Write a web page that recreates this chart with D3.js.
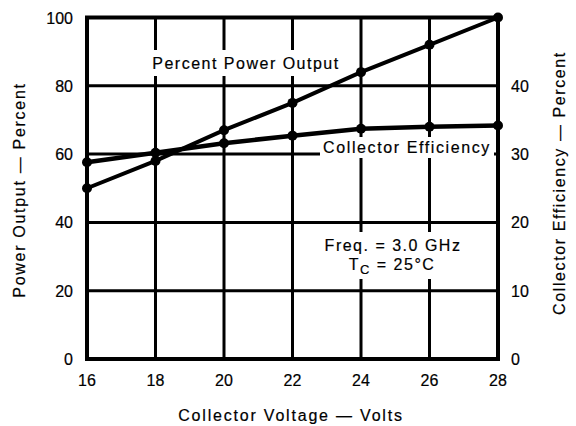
<!DOCTYPE html>
<html>
<head>
<meta charset="utf-8">
<script src="https://cdn.jsdelivr.net/npm/d3@7"></script>
<style>
  body { margin: 0; background: #fff; }
  text { font-family: "Liberation Sans", Arial, sans-serif; fill: #000; stroke: #000; stroke-width: 0.2px; }
</style>
</head>
<body>
<div id="chart"></div>
<script>
// values
let voltage = [16, 18, 20, 22, 24, 26, 28];
let powerOutput = [50, 58, 67, 75, 84, 92, 100];         // percent, left axis
let efficiency = [28.8, 30.2, 31.6, 32.7, 33.7, 34.0, 34.2]; // percent, right axis
let leftTicks = [0, 20, 40, 60, 80, 100];
let rightTicks = [0, 10, 20, 30, 40];

let width = 576, height = 426;
let margin = { top: 17.5, right: 78, bottom: 67, left: 87 };

let svg = d3.select("#chart")
    .append("svg")
    .attr("width", width)
    .attr("height", height);

let x = d3.scaleLinear().domain([16, 28]).range([margin.left, width - margin.right]);
let yL = d3.scaleLinear().domain([0, 100]).range([height - margin.bottom, margin.top]);
let yR = d3.scaleLinear().domain([0, 50]).range([height - margin.bottom, margin.top]);

// grid
let grid = svg.append("g").attr("stroke", "#000").attr("stroke-width", 3);
grid.selectAll(".h")
    .data(leftTicks)
    .enter()
    .append("line")
    .attr("x1", x(16)).attr("x2", x(28))
    .attr("y1", d => yL(d)).attr("y2", d => yL(d));
grid.selectAll(".v")
    .data(voltage)
    .enter()
    .append("line")
    .attr("x1", d => x(d)).attr("x2", d => x(d))
    .attr("y1", yL(0)).attr("y2", yL(100));

// white boxes behind the labels that sit on the grid
let boxes = [
    [148, 50, 196, 26],
    [320, 137, 174, 21],
    [322, 232, 144, 47]
];
svg.append("g").selectAll("rect")
    .data(boxes)
    .enter()
    .append("rect")
    .attr("x", d => d[0]).attr("y", d => d[1])
    .attr("width", d => d[2]).attr("height", d => d[3])
    .attr("fill", "#fff");

// curves
let powerLine = d3.line().x((d, i) => x(voltage[i])).y(d => yL(d));
let effLine = d3.line().x((d, i) => x(voltage[i])).y(d => yR(d));

svg.append("path")
    .attr("d", powerLine(powerOutput))
    .attr("fill", "none").attr("stroke", "#000").attr("stroke-width", 4);
svg.append("path")
    .attr("d", effLine(efficiency))
    .attr("fill", "none").attr("stroke", "#000").attr("stroke-width", 4.5);

svg.append("g").selectAll("circle")
    .data(powerOutput)
    .enter()
    .append("circle")
    .attr("cx", (d, i) => x(voltage[i])).attr("cy", d => yL(d))
    .attr("r", 5);
svg.append("g").selectAll("circle")
    .data(efficiency)
    .enter()
    .append("circle")
    .attr("cx", (d, i) => x(voltage[i])).attr("cy", d => yR(d))
    .attr("r", 5);

// frame
svg.append("rect")
    .attr("x", x(16)).attr("y", yL(100))
    .attr("width", x(28) - x(16)).attr("height", yL(0) - yL(100))
    .attr("fill", "none").attr("stroke", "#000").attr("stroke-width", 4);

// tick labels
svg.append("g").selectAll("text")
    .data(leftTicks)
    .enter()
    .append("text")
    .attr("x", 73).attr("y", d => yL(d) + 6)
    .attr("text-anchor", "end")
    .attr("font-size", 16)
    .text(d => d);
svg.append("g").selectAll("text")
    .data(rightTicks)
    .enter()
    .append("text")
    .attr("x", 511).attr("y", d => yR(d) + 6)
    .attr("font-size", 16)
    .text(d => d);
svg.append("g").selectAll("text")
    .data(voltage)
    .enter()
    .append("text")
    .attr("x", d => x(d)).attr("y", 386)
    .attr("text-anchor", "middle")
    .attr("font-size", 16)
    .text(d => d);

// axis titles
svg.append("text")
    .attr("x", 291).attr("y", 421)
    .attr("text-anchor", "middle")
    .attr("font-size", 16).attr("letter-spacing", 1.8)
    .text("Collector Voltage — Volts");
svg.append("text")
    .attr("transform", "translate(25,190) rotate(-90)")
    .attr("text-anchor", "middle")
    .attr("font-size", 16).attr("letter-spacing", 1.7)
    .text("Power Output — Percent");
svg.append("text")
    .attr("transform", "translate(565,183) rotate(-90)")
    .attr("text-anchor", "middle")
    .attr("font-size", 16).attr("letter-spacing", 1.6)
    .text("Collector Efficiency — Percent");

// curve labels and conditions
svg.append("text")
    .attr("x", 246).attr("y", 69)
    .attr("text-anchor", "middle")
    .attr("font-size", 16).attr("letter-spacing", 1.5)
    .text("Percent Power Output");
svg.append("text")
    .attr("x", 407).attr("y", 153)
    .attr("text-anchor", "middle")
    .attr("font-size", 16).attr("letter-spacing", 1.6)
    .text("Collector Efficiency");
svg.append("text")
    .attr("x", 393).attr("y", 251)
    .attr("text-anchor", "middle")
    .attr("font-size", 16).attr("letter-spacing", 1.5)
    .text("Freq. = 3.0 GHz");
let tc = svg.append("text")
    .attr("x", 392).attr("y", 270)
    .attr("text-anchor", "middle")
    .attr("font-size", 16).attr("letter-spacing", 1.5);
tc.append("tspan").text("T");
tc.append("tspan").attr("font-size", 13).attr("dy", 4).text("C");
tc.append("tspan").attr("dy", -4).text(" = 25°C");
</script>
</body>
</html>
